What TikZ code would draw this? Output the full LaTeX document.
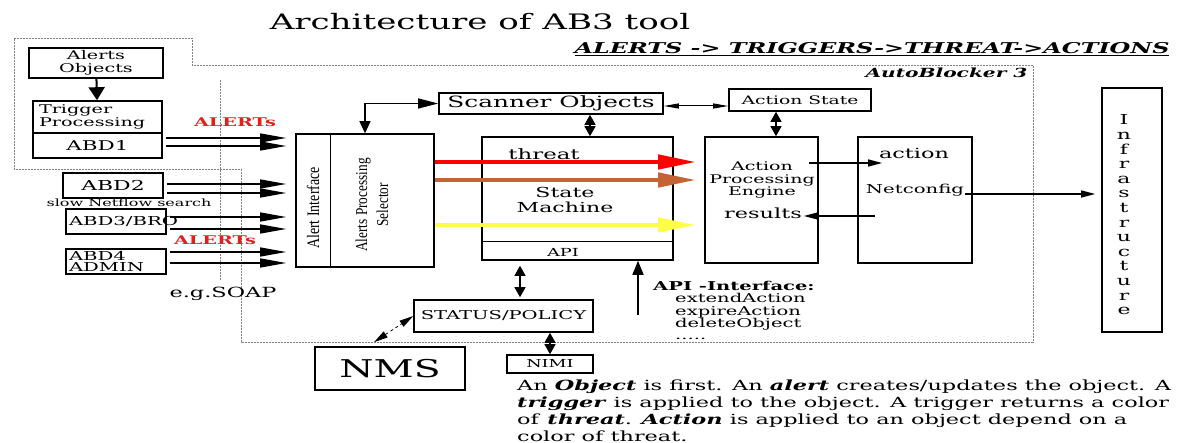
\documentclass[tikz,border=0pt]{standalone}
\usepackage{fontspec}
\setmainfont{DejaVu Serif}[FakeStretch=1.6]
\newfontfamily\rotfont{Liberation Serif}[FakeStretch=0.8]
\usetikzlibrary{calc,arrows.meta}
\definecolor{threatred}{RGB}{255,0,0}
\definecolor{threatbrown}{RGB}{196,100,52}
\definecolor{threatyellow}{RGB}{255,255,70}
\definecolor{alertred}{RGB}{228,30,30}
\newcommand{\setfs}[2]{\fontsize{#1}{#2}\selectfont}

\tikzset{
  box/.style={draw, line width=1.6pt, inner sep=0pt},
  region/.style={gray, line width=0.9pt, dash pattern=on 2pt off 1pt},
  arr/.style={line width=1.2pt, -{Triangle[length=14pt,width=7pt]}},
  inarr/.style={line width=1.2pt, -{Triangle[length=26pt,width=9pt]}, shorten <=3pt, shorten >=9pt},
  dblarr/.style={line width=1.2pt, {Triangle[length=10pt,width=11pt]}-{Triangle[length=10pt,width=11pt]}},
  threatarr/.style={line width=4.5pt, -{Triangle[length=38pt,width=14pt]}, shorten >=8pt},
}

\begin{document}
\begin{tikzpicture}[x=1pt, y=-1pt]
  %%%%% FRAME %%%%%
  \useasboundingbox (0,0) rectangle (1201,443);

  \node (title) at (480,22) {\setfs{21.3}{26}Architecture of AB3 tool};
  \node[anchor=east] (chain) at (1173,49)
    {\setfs{14.9}{16}\bfseries\itshape\underline{ALERTS -> TRIGGERS->THREAT->ACTIONS}};

  \draw[region] (14,38) -- (192,38) -- (192,65) -- (1033,65) -- (1033,342)
    -- (241,342) -- (241,169) -- (14,169) -- cycle;
  \draw[region] (220,80) -- (220,280);
  \node[anchor=east] (ab3) at (1031,73) {\setfs{12.6}{15}\bfseries\itshape AutoBlocker 3};

  %%%%% SOURCES %%%%%
  \node[box, minimum width=134pt, minimum height=30pt, align=center, font={\setfs{12}{12.5}}]
    (alobj) at (96,63) {Alerts\\Objects};
  \node[box, minimum width=129pt, minimum height=32pt, text width=117pt, align=left, font={\setfs{12}{12.5}}]
    (trig) at (97.5,117) {Trigger\\Processing};
  \node[box, minimum width=129pt, minimum height=25pt] (abd1) at (97.5,145.5) {\setfs{13.4}{16}ABD1};
  \node[box, minimum width=100pt, minimum height=25pt] (abd2) at (113,185.5) {\setfs{13.7}{16}ABD2};
  \node[box, minimum width=100pt, minimum height=25pt, text width=94pt, align=left, font={\setfs{12.3}{12.5}}]
    (abd3) at (116,221.5) {ABD3/BRO};
  \node[box, minimum width=100pt, minimum height=25pt, text width=94pt, align=left, font={\setfs{12.3}{11.5}}]
    (abd4) at (116,261.5) {ABD4\\ADMIN};

  \node (slow) at (129,203) {\setfs{10}{10}slow Netflow search};
  \node[text=alertred] (alerts1) at (235,122) {\setfs{12}{12}\bfseries ALERTs};
  \node[text=alertred] (alerts2) at (215,240) {\setfs{12}{12}\bfseries ALERTs};
  \node (soap) at (223,294) {\setfs{14}{16}e.g.SOAP};

  \draw[line width=2pt, -{Triangle[length=13pt,width=16pt]}] (alobj) -- (trig);

  %%%%% ALERT INTERFACE %%%%%
  \node[box, minimum width=138pt, minimum height=133pt] (alert) at (365,200.5) {};
  \draw[line width=0.8pt] ($(alert.north west)+(35,0)$) -- ($(alert.south west)+(35,0)$);
  \node[rotate=90, font={\rotfont\setfs{17.5}{20}}] (aliface) at (313,208) {Alert Interface};
  \node[rotate=90, align=center, font={\rotfont\setfs{16.6}{21}}] (alsel) at (372,205)
    {Alerts Processing\\Selector};

  \draw[inarr] (abd1.east |- 0,138) -- (alert.west |- 0,138);
  \draw[inarr] (abd1.east |- 0,146) -- (alert.west |- 0,146);
  \draw[inarr] (abd2.east |- 0,184) -- (alert.west |- 0,184);
  \draw[inarr] (abd2.east |- 0,193) -- (alert.west |- 0,193);
  \draw[inarr] (abd3.east |- 0,217) -- (alert.west |- 0,217);
  \draw[inarr] (abd3.east |- 0,229) -- (alert.west |- 0,229);
  \draw[inarr] (abd4.east |- 0,252) -- (alert.west |- 0,252);
  \draw[inarr] (abd4.east |- 0,263) -- (alert.west |- 0,263);

  %%%%% CORE %%%%%
  \node[box, minimum width=224pt, minimum height=21pt] (scan) at (551,103.5) {\setfs{15.5}{18}Scanner Objects};
  \node[box, minimum width=142pt, minimum height=22pt] (astate) at (800,100) {\setfs{11.7}{14}Action State};

  \node[box, minimum width=191pt, minimum height=123pt] (sm) at (577.5,198.5) {};
  \draw[line width=0.8pt] ($(sm.south west)+(0,-19)$) -- ($(sm.south east)+(0,-19)$);
  \node (threat) at (544,154) {\setfs{14.3}{15}threat};
  \node[align=center, font={\setfs{13.8}{15}}] (smtext) at (565,200) {State\\Machine};
  \node (api) at (563,252) {\setfs{11.1}{12}API};

  \node[box, minimum width=113pt, minimum height=126pt] (ape) at (761.5,200) {};
  \node[align=center, font={\setfs{11.9}{12.8}}] (apetext) at (762,180) {Action\\Processing\\Engine};
  \node (results) at (763,213) {\setfs{14}{15}results};

  \node[box, minimum width=114pt, minimum height=126pt] (net) at (915,200) {};
  \node (action) at (914,153) {\setfs{14}{15}action};
  \node (netcfg) at (915,190) {\setfs{12.3}{13}Netconfig};

  \node[box, minimum width=60pt, minimum height=244pt] (infra) at (1132,210) {};
  \node[align=center, font={\setfs{13.7}{14.6}}] (infratext) at (1124,215)
    {I\\n\\f\\r\\a\\s\\t\\r\\u\\c\\t\\u\\r\\e};

  \draw[line width=1.2pt, {Triangle[length=12pt,width=11pt]}-{Triangle[length=20pt,width=10pt]}]
    (alert.north) |- (scan.west);
  \draw[line width=1pt, {Triangle[length=15pt,width=5pt]}-{Triangle[length=15pt,width=5pt]}]
    (scan.east |- 0,106) -- (astate.west |- 0,106);
  \draw[dblarr] (590,0 |- scan.south) -- (590,0 |- sm.north);
  \draw[dblarr] (776,0 |- astate.south) -- (776,0 |- ape.north);

  \draw[threatarr, threatred] (alert.east |- 0,162) -- (ape.west |- 0,162);
  \draw[threatarr, threatbrown] (alert.east |- 0,180) -- (ape.west |- 0,180);
  \draw[threatarr, threatyellow] (alert.east |- 0,225) -- (ape.west |- 0,225);

  \draw[arr] ([xshift=-10pt]ape.east |- 0,163) -- ([xshift=25pt]net.west |- 0,163);
  \draw[arr] ([xshift=18pt]net.west |- 0,216) -- ([xshift=-15pt]ape.east |- 0,216);
  \draw[arr, shorten <=-8pt, shorten >=6pt] (net.east |- 0,194) -- (infra.west |- 0,194);

  %%%%% STATUS %%%%%
  \node[box, minimum width=179pt, minimum height=32pt] (status) at (503.5,316) {\setfs{12.2}{14}STATUS/POLICY};
  \node[box, minimum width=150pt, minimum height=43pt] (nms) at (390,368.5) {\setfs{24.5}{26}NMS};
  \node[box, minimum width=86pt, minimum height=18pt] (nimi) at (550,364) {\setfs{11}{12}NIMI};

  \draw[dblarr, shorten <=5pt, shorten >=2pt] (520,0 |- sm.south) -- (520,0 |- status.north);
  \draw[dblarr] (status.south -| nimi.north) -- (nimi.north);
  \draw[line width=0.8pt, dashed, {Triangle[length=14pt,width=7pt]}-{Triangle[length=14pt,width=7pt]}]
    ([xshift=-16pt, yshift=4pt]nms.north) -- (status.west);

  \coordinate (apiin) at (638,315);
  \draw[line width=1.6pt, -{Triangle[length=14pt,width=11pt]}] (apiin) -- (apiin |- sm.south);
  \node[anchor=north west, align=left, inner sep=0pt, font={\setfs{12.2}{12.3}}] (apilist) at (653,281)
    {\textbf{API -Interface:}\\\hspace{22pt}extendAction\\\hspace{22pt}expireAction\\
     \hspace{22pt}deleteObject\\\hspace{22pt}.....};

  \node[anchor=north west, align=left, inner sep=0pt, font={\setfs{14}{17}}] (note) at (517,380)
    {An \textbf{\textit{Object}} is first. An \textbf{\textit{alert}} creates/updates the object. A\\
     \textbf{\textit{trigger}} is applied to the object. A trigger returns a color\\
     of \textbf{\textit{threat}}. \textbf{\textit{Action}} is applied to an object depend on a\\
     color of threat.};
\end{tikzpicture}
\end{document}
